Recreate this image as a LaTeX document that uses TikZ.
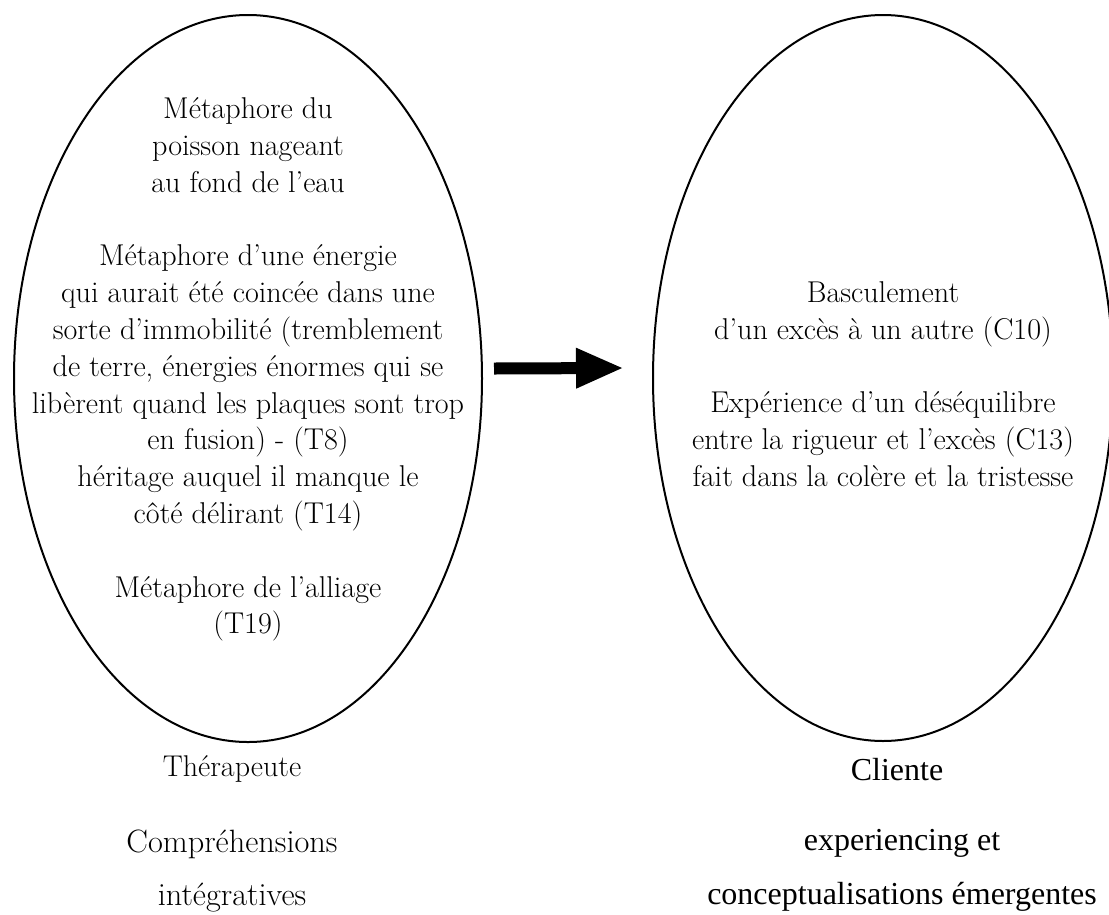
\documentclass[tikz,border=0pt]{standalone}
\usepackage{fontspec}
\newfontfamily\timesfont{Liberation Serif}
\usetikzlibrary{positioning}
\usetikzlibrary{shapes.geometric}
\usetikzlibrary{arrows.meta}

\tikzset{
  bubble/.style={draw, ellipse, line width=2pt, inner sep=0pt},
  inside/.style={align=center, font=\fontsize{30.1}{36.8}\selectfont},
  rolename/.style={font=\fontsize{30}{34}\selectfont, inner sep=0pt},
  roledesc/.style={font=\fontsize{32.3}{36}\selectfont, inner sep=0pt},
  trolename/.style={font=\timesfont\fontsize{32}{36}\selectfont, inner sep=0pt},
  bigarrow/.style={line width=12pt, -{Triangle[length=48pt,width=37pt]}}
}

\begin{document}
\begin{tikzpicture}[x=1pt, y=-1pt]
      \useasboundingbox (0,0) rectangle (1109,914);

      % the two ellipses
      \node [bubble, minimum width=468pt, minimum height=727pt] (ther) at (248,378.5) {};
      \node [bubble, minimum width=460pt, minimum height=726pt] (cli) at (883,378) {};

      \node [inside] (therText) at ([yshift=9pt]ther.center) {M\'etaphore du\\
        poisson nageant\\
        au fond de l'eau\\[36.8pt]
        M\'etaphore d'une \'energie\\
        qui aurait \'et\'e coinc\'ee dans une\\
        sorte d'immobilit\'e (tremblement\\
        de terre, \'energies \'enormes qui se\\
        lib\`erent quand les plaques sont trop\\
        en fusion) - (T8)\\
        h\'eritage auquel il manque le\\
        c\^ot\'e d\'elirant (T14)\\[36.8pt]
        M\'etaphore de l'alliage\\
        (T19)};
      \node [inside] (cliText) at ([yshift=-6pt]cli.center) {Basculement\\
        d'un exc\`es \`a un autre (C10)\\[36.8pt]
        Exp\'erience d'un d\'es\'equilibre\\
        entre la rigueur et l'exc\`es (C13)\\
        fait dans la col\`ere et la tristesse};

      \draw [bigarrow] ([xshift=11pt, yshift=10pt]ther.east) -- ([xshift=-28pt, yshift=10pt]cli.west);

      % labels under the ellipses
      \node [rolename] (therName) at ([xshift=-16pt, yshift=-26pt]ther.south) {Th\'erapeute};
      \node [roledesc] (therDesc1) at ([yshift=-75pt]therName.center) {Compr\'ehensions};
      \node [roledesc] (therDesc2) at ([yshift=-54pt]therDesc1.center) {int\'egratives};

      \node [trolename] (cliName) at ([xshift=14pt, yshift=-28pt]cli.south) {Cliente};
      \node [trolename] (cliDesc1) at ([xshift=5pt, yshift=-73pt]cliName.center) {experiencing et};
      \node [trolename] (cliDesc2) at ([yshift=-54pt]cliDesc1.center) {conceptualisations \'emergentes};
\end{tikzpicture}
\end{document}
